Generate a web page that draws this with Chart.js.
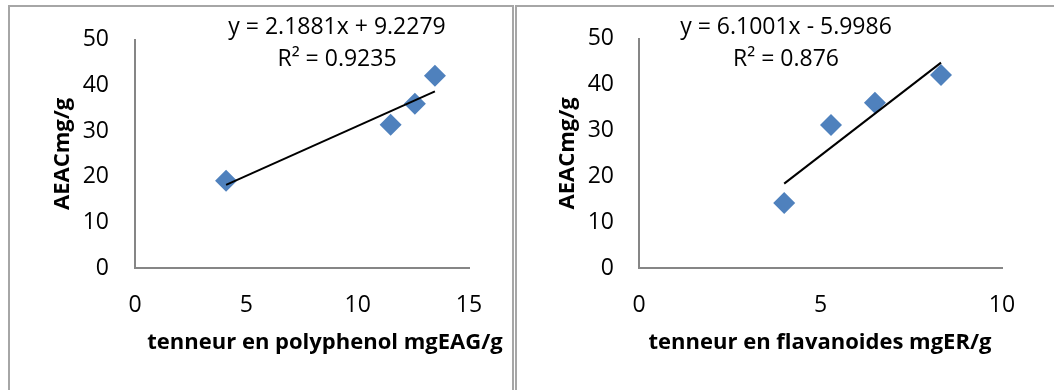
<!DOCTYPE html>
<html>
<head>
<meta charset="utf-8">
<script src="https://cdn.jsdelivr.net/npm/chart.js@4/dist/chart.umd.min.js"></script>
<style>
  body { margin: 0; width: 1054px; height: 390px; overflow: hidden; background: #fff; position: relative; }
  .box { position: absolute; top: 5px; height: 400px; border: 2px solid #a6a6a6; box-sizing: border-box; }
  #boxPoly { left: 8px; width: 506px; }
  #boxFlav { left: 515px; width: 560px; }
  canvas { position: absolute; top: 0; }
  #polyChart { left: 0; }
  #flavChart { left: 515px; }
</style>
</head>
<body>
<div class="box" id="boxPoly"></div>
<div class="box" id="boxFlav"></div>
<canvas id="polyChart" width="515" height="390"></canvas>
<canvas id="flavChart" width="539" height="390"></canvas>
<script>
// polyphenols vs AEAC
const polyX = [4.09, 11.48, 12.57, 13.47];
const polyY = [19.1, 31.4, 36.0, 42.1];
const polyTrendX = [4.09, 13.47];
const polyTrendY = [18.2, 38.7];

// flavanoids vs AEAC
const flavX = [4.0, 5.29, 6.5, 8.32];
const flavY = [14.2, 31.2, 36.05, 42.1];
const flavTrendX = [4.0, 8.32];
const flavTrendY = [18.4, 44.8];

const yTicks = [0, 10, 20, 30, 40, 50];

Chart.defaults.font.family = "'Open Sans', sans-serif";
Chart.defaults.color = '#000';

const notesPlugin = {
  id: 'notes',
  afterDraw(chart, args, opts) {
    const ctx = chart.ctx;
    ctx.save();
    ctx.fillStyle = '#000';
    ctx.textAlign = 'center';
    ctx.textBaseline = 'middle';
    for (const item of opts.items || []) {
      ctx.font = item.font;
      ctx.fillText(item.text, item.x, item.y);
    }
    ctx.restore();
  },
};

function pairs(xs, ys) {
  return xs.map((x, i) => ({ x, y: ys[i] }));
}

function mountChart(canvasId, cfg) {
  const ctx = document.getElementById(canvasId);
  return new Chart(ctx, {
    type: 'scatter',
    data: {
      datasets: [
        {
          type: 'line',
          data: pairs(cfg.trendX, cfg.trendY),
          borderColor: '#000',
          borderWidth: 2,
          pointRadius: 0,
          fill: false,
          order: 0,
        },
        {
          data: pairs(cfg.xs, cfg.ys),
          pointStyle: 'rectRot',
          pointRadius: 11,
          backgroundColor: '#4f81bd',
          borderColor: '#4f81bd',
          borderWidth: 0,
          order: 1,
        },
      ],
    },
    options: {
      responsive: false,
      animation: false,
      layout: {
        padding: { left: 0, top: 35, right: cfg.padRight, bottom: 0 },
      },
      plugins: {
        legend: { display: false },
        tooltip: { enabled: false },
        notes: { items: cfg.notes },
      },
      scales: {
        x: {
          type: 'linear',
          min: 0,
          max: cfg.xMax,
          afterFit: (scale) => { scale.height = 122; },
          ticks: { stepSize: 5, padding: 24, font: { size: 23 } },
          grid: { display: false, drawTicks: false, tickLength: 0 },
          border: { display: true, color: '#868686', width: 2 },
        },
        y: {
          min: 0,
          max: 50,
          afterFit: (scale) => { scale.width = cfg.yWidth; },
          afterBuildTicks: (scale) => { scale.ticks = yTicks.map((v) => ({ value: v })); },
          ticks: { padding: cfg.yTickPad, font: { size: 23 } },
          grid: { display: false, drawTicks: false, tickLength: 0 },
          border: { display: true, color: '#868686', width: 2 },
          title: {
            display: true,
            text: 'AEACmg/g',
            font: { size: 22, weight: 'bold' },
            padding: { top: cfg.yTitlePad, bottom: 0 },
          },
        },
      },
    },
    plugins: [notesPlugin],
  });
}

mountChart('polyChart', {
  xs: polyX,
  ys: polyY,
  trendX: polyTrendX,
  trendY: polyTrendY,
  xMax: 15,
  padRight: 46,
  yWidth: 135,
  yTickPad: 26,
  yTitlePad: 50,
  notes: [
    { text: 'y = 2.1881x + 9.2279', x: 337, y: 27, font: "23px 'Open Sans'" },
    { text: 'R² = 0.9235', x: 337, y: 59, font: "23px 'Open Sans'" },
    { text: 'tenneur en polyphenol mgEAG/g', x: 325, y: 343, font: "bold 22px 'Open Sans'" },
  ],
});

mountChart('flavChart', {
  xs: flavX,
  ys: flavY,
  trendX: flavTrendX,
  trendY: flavTrendY,
  xMax: 10,
  padRight: 52,
  yWidth: 124,
  yTickPad: 25,
  yTitlePad: 40,
  notes: [
    { text: 'y = 6.1001x - 5.9986', x: 271, y: 27, font: "23px 'Open Sans'" },
    { text: 'R² = 0.876', x: 271, y: 59, font: "23px 'Open Sans'" },
    { text: 'tenneur en flavanoides mgER/g', x: 305, y: 343, font: "bold 22px 'Open Sans'" },
  ],
});
</script>
</body>
</html>
